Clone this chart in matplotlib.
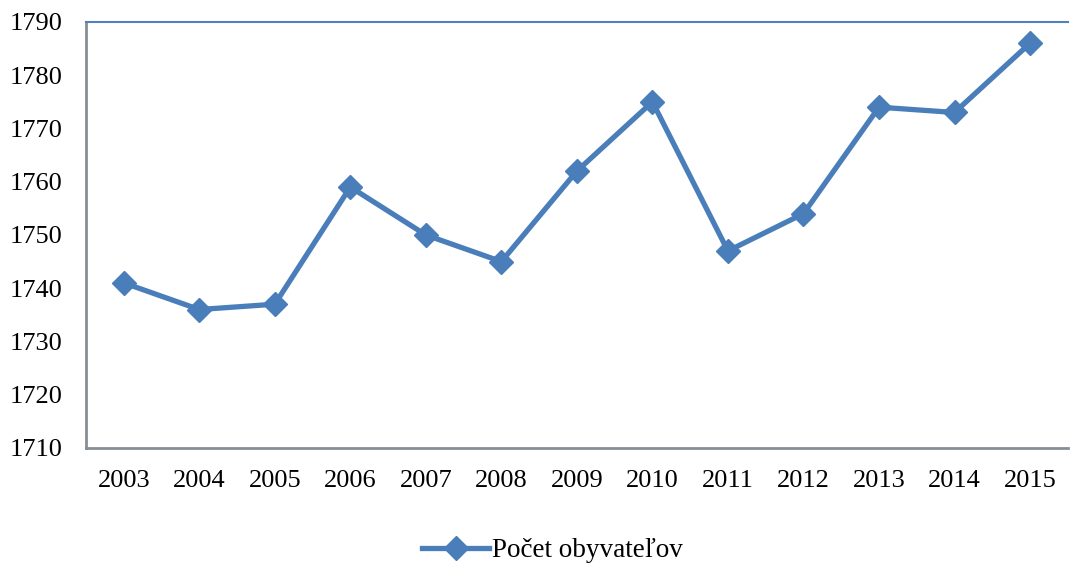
import matplotlib.pyplot as plt

# Data
years = ["2003", "2004", "2005", "2006", "2007", "2008", "2009",
         "2010", "2011", "2012", "2013", "2014", "2015"]
population = [1741, 1736, 1737, 1759, 1750, 1745, 1762,
              1775, 1747, 1754, 1774, 1773, 1786]
y_ticks = [1710, 1720, 1730, 1740, 1750, 1760, 1770, 1780, 1790]

plt.rcParams["font.family"] = ["Liberation Serif", "DejaVu Serif"]

fig = plt.figure(figsize=(10.71, 5.63), dpi=100)
ax = fig.add_axes([0.0803, 0.2043, 0.9167, 0.7567])

x = list(range(len(years)))
ax.plot(x, population, color="#4A7EBB", linewidth=3.8, marker="D",
        markersize=12, label="Počet obyvateľov")

ax.set_xlim(-0.5, len(years) - 0.5)
ax.set_ylim(1710, 1790)
ax.set_xticks(x)
ax.set_xticklabels(years)
ax.set_yticks(y_ticks)
ax.tick_params(axis="both", length=0, labelsize=19)
ax.tick_params(axis="x", pad=16)
ax.tick_params(axis="y", pad=17)

# Excel-like frame
ax.spines["right"].set_visible(False)
ax.spines["top"].set_color("#4F81BD")
ax.spines["top"].set_linewidth(1.5)
for side in ("left", "bottom"):
    ax.spines[side].set_color("#868E96")
    ax.spines[side].set_linewidth(2)

ax.legend(loc="upper center", bbox_to_anchor=(0.475, -0.155), frameon=False,
          fontsize=19.5, handlelength=2.5, handletextpad=0.1)

fig.savefig("out.png", dpi=100)
